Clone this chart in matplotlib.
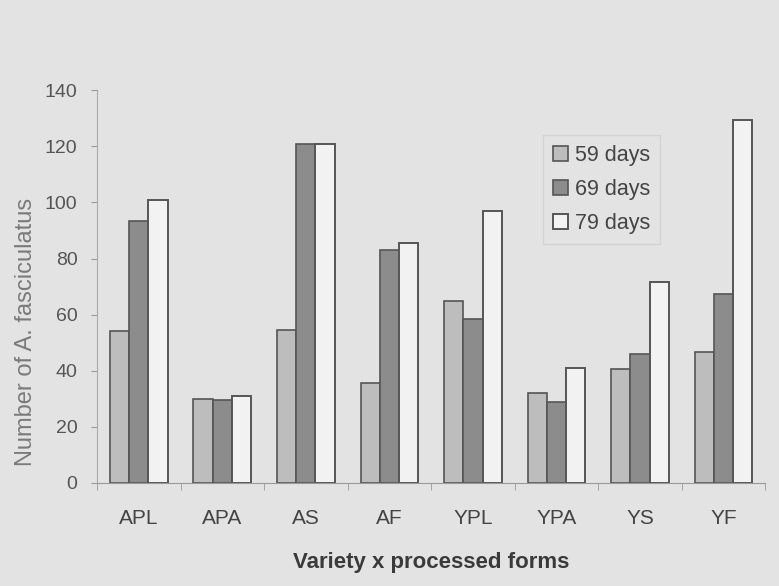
import numpy as np
import matplotlib.pyplot as plt

plt.rcParams['font.family'] = ['Liberation Sans', 'DejaVu Sans']

forms = ['APL', 'APA', 'AS', 'AF', 'YPL', 'YPA', 'YS', 'YF']
days_59 = [54, 30, 54.5, 35.5, 65, 32, 40.5, 46.5]
days_69 = [93.5, 29.5, 121, 83, 58.5, 29, 46, 67.5]
days_79 = [101, 31, 121, 85.5, 97, 41, 71.5, 129.5]
series_names = ['59 days', '69 days', '79 days']

bg = '#e3e3e3'
fig = plt.figure(figsize=(7.79, 5.86), dpi=100, facecolor=bg)
ax = fig.add_axes([0.1245, 0.176, 0.858, 0.67])
ax.set_facecolor(bg)

x = np.arange(len(forms))
w = 0.23
edge = '#555555'
ax.bar(x - w, days_59, w, color='#bdbdbd', edgecolor=edge, linewidth=1.2, label=series_names[0])
ax.bar(x, days_69, w, color='#8c8c8c', edgecolor=edge, linewidth=1.2, label=series_names[1])
ax.bar(x + w, days_79, w, color='#f2f2f2', edgecolor=edge, linewidth=1.4, label=series_names[2])

ax.set_xlim(-0.5, len(forms) - 0.5)
ax.set_ylim(0, 140)
ax.set_yticks(np.arange(0, 141, 20))
ax.set_xticks(x)
ax.set_xticklabels(forms)
ax.set_xticks(np.arange(-0.5, len(forms), 1), minor=True)
ax.tick_params(axis='x', which='major', length=0, pad=19, labelsize=15, labelcolor='#444444')
ax.tick_params(axis='x', which='minor', length=5, color='#999999', direction='out')
ax.tick_params(axis='y', length=4, color='#999999', labelsize=14, labelcolor='#555555', pad=10)

for s in ['top', 'right']:
    ax.spines[s].set_visible(False)
ax.spines['left'].set_color('#aaaaaa')
ax.spines['bottom'].set_color('#999999')

ax.set_ylabel('Number of A. fasciculatus', fontsize=17, color='#7a7a7a')
ax.yaxis.set_label_coords(-0.09, 0.385)
ax.set_xlabel('Variety x processed forms', fontsize=16, color='#3a3a3a', fontweight='bold', labelpad=17)

leg = ax.legend(loc='upper left', bbox_to_anchor=(0.668, 0.885), fontsize=15.5,
                frameon=True, fancybox=False, handlelength=0.7, handleheight=0.7,
                handletextpad=0.3, labelspacing=0.6, borderpad=0.45, borderaxespad=0)
leg.get_frame().set_facecolor(bg)
leg.get_frame().set_edgecolor('#cfcfcf')
for t in leg.get_texts():
    t.set_color('#444444')

fig.savefig('out.png', dpi=100, facecolor=bg)
